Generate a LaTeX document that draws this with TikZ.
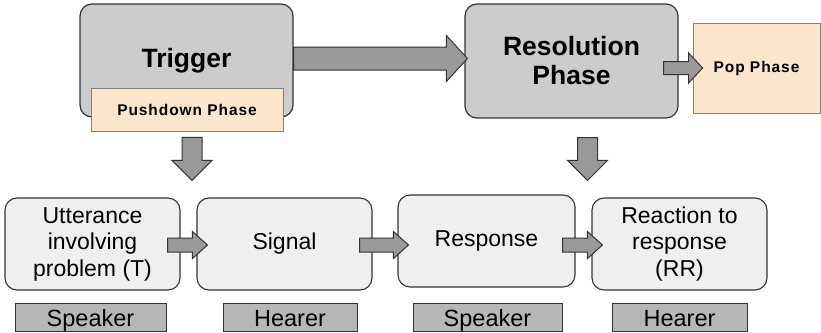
\documentclass[tikz,border=0pt]{standalone}
\usepackage{fontspec}
\setmainfont{Liberation Sans}
\usetikzlibrary{calc}

\definecolor{phasegray}{HTML}{CCCCCC}
\definecolor{steplight}{HTML}{EFEFEF}
\definecolor{peach}{HTML}{FCE5CD}
\definecolor{arrowgray}{HTML}{999999}
\definecolor{rolegray}{HTML}{B7B7B7}
\definecolor{edgegray}{HTML}{333333}

% block arrows: start, tip, half shaft, half head, head length
\newcommand{\blockright}[5]{%
  \filldraw[blockarr] let \p1=(#1), \p2=(#2) in
    (\x1,\y1+#3) -- (\x2-#5,\y1+#3) -- (\x2-#5,\y1+#4) -- (\x2,\y1)
    -- (\x2-#5,\y1-#4) -- (\x2-#5,\y1-#3) -- (\x1,\y1-#3) -- cycle;}
\newcommand{\blockdown}[5]{%
  \filldraw[blockarr] let \p1=(#1), \p2=(#2) in
    (\x1-#3,\y1) -- (\x1-#3,\y2+#5) -- (\x1-#4,\y2+#5) -- (\x1,\y2)
    -- (\x1+#4,\y2+#5) -- (\x1+#3,\y2+#5) -- (\x1+#3,\y1) -- cycle;}

\begin{document}
\begin{tikzpicture}[x=1pt,y=-1pt,
    phase/.style={draw=edgegray, fill=phasegray, rounded corners=12pt, line width=1.2pt,
      minimum width=213pt, minimum height=113pt, inner sep=0pt, align=center,
      font=\bfseries\fontsize{26.5}{29}\selectfont},
    tag/.style={draw=gray, fill=peach, line width=0.8pt, inner sep=0pt,
      font=\bfseries\fontsize{15.5}{18}\selectfont\addfontfeature{LetterSpace=6}},
    stepbox/.style={draw=edgegray, fill=steplight, rounded corners=12pt, line width=1.1pt,
      minimum width=175pt, minimum height=92pt, inner sep=0pt, align=center,
      font=\fontsize{23}{26.5}\selectfont},
    role/.style={draw=edgegray, fill=rolegray, line width=0.9pt, minimum height=28pt,
      inner sep=0pt, text height=18pt, text depth=0pt, font=\fontsize{23.5}{26}\selectfont},
    blockarr/.style={fill=arrowgray, draw=edgegray, line width=1pt, line join=miter}]
    \useasboundingbox (0,0) rectangle (821,332);

    % upper row
    \node[phase] (trig) at (186.5,60.5) {Trigger};
    \node[tag, minimum width=192pt, minimum height=43pt] (push) at (187,109.5) {Pushdown Phase};
    \node[phase, minimum height=114pt] (res) at (571.5,61) {Resolution\\Phase};
    \node[tag, minimum width=127pt, minimum height=90pt] (pop) at (756.5,68) {Pop Phase};

    \blockright{[yshift=2pt]trig.east}{[xshift=3pt]res.west}{11.5pt}{23pt}{21pt}
    \blockright{[xshift=-15pt,yshift=-7pt]res.east}{[xshift=10pt]pop.west}{6.5pt}{15pt}{14pt}

    % lower row
    \node[stepbox] (utt) at (92.5,244) {Utterance\\involving\\problem (T)};
    \node[stepbox] (sig) at (284.5,244) {Signal};
    \node[stepbox, minimum width=177pt] (resp) at (486.5,241) {Response};
    \node[stepbox] (rr) at (679.5,244) {Reaction to\\response\\(RR)};

    \blockdown{[xshift=5pt,yshift=-6pt]push.south}{[yshift=17pt]utt.north}{10pt}{20pt}{20pt}
    \blockdown{[xshift=16pt,yshift=-19pt]res.south}{[yshift=14pt]resp.north}{10pt}{20pt}{20pt}

    \blockright{[xshift=-13pt,yshift=-1pt]utt.east}{[xshift=11pt]sig.west}{7pt}{13.5pt}{15pt}
    \blockright{[xshift=-13pt,yshift=-1pt]sig.east}{[xshift=11pt]resp.west}{7pt}{13.5pt}{15pt}
    \blockright{[xshift=-13pt,yshift=-4pt]resp.east}{[xshift=11pt]rr.west}{7pt}{13.5pt}{15pt}

    % roles
    \node[role, minimum width=151pt] (spkA) at (90.5,317) {Speaker};
    \node[role, minimum width=134pt] (hearA) at (290,317) {Hearer};
    \node[role, minimum width=149pt] (spkB) at (487.5,317) {Speaker};
    \node[role, minimum width=135pt] (hearB) at (679.5,317) {Hearer};
\end{tikzpicture}
\end{document}
